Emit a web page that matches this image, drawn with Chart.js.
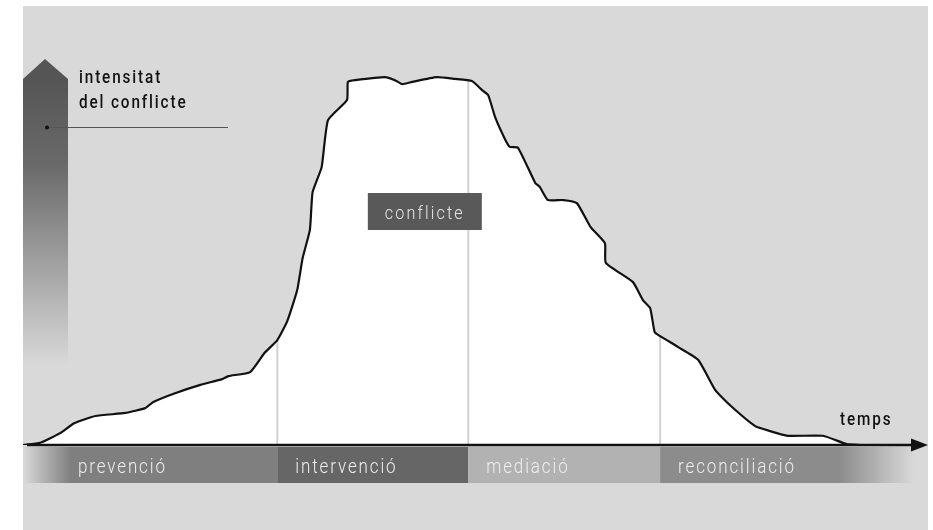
<!DOCTYPE html>
<html>
<head>
<meta charset="utf-8">
<script src="https://cdn.jsdelivr.net/npm/chart.js@4.4.0/dist/chart.umd.min.js"></script>
<style>
    body { margin: 0; background: #ffffff; }
    #grafic { display: block; }
</style>
</head>
<body>
<canvas id="grafic" width="933" height="530"></canvas>
<script>
// temps (0-100) i intensitat (0-100) llegits de la imatge
const temps = [0, 1.9, 4.1, 5.7, 8.0, 11.3, 13.5, 14.4, 16.8, 19.6, 22.0, 22.7, 25.1, 26.7, 28.1, 29.2, 30.3, 30.9, 31.7, 32.0,
    33.0, 33.7, 35.8, 35.9, 36.7, 40.0, 41.1, 41.9, 43.0, 45.7, 47.7, 49.6, 50.7, 51.4, 52.2, 53.3, 53.8, 54.7, 56.6, 57.1,
    58.0, 59.7, 61.2, 62.7, 64.3, 64.4, 67.4, 68.5, 69.3, 69.8, 70.4, 72.4, 74.6, 76.5, 78.1, 80.9, 82.5, 84.5, 88.4, 91.0, 92.5];
const intensitat = [0, 0.5, 2.7, 5.0, 6.6, 7.3, 8.4, 9.8, 11.8, 13.7, 15.0, 15.7, 16.6, 21.0, 23.9, 28.2, 35.3, 42.6, 49.0, 57.6,
    63.3, 74.0, 78.6, 82.7, 83.1, 83.8, 83.1, 82.2, 82.7, 83.8, 83.4, 82.9, 80.9, 79.7, 74.5, 69.5, 67.9, 67.7, 59.7, 58.8,
    55.8, 55.8, 55.1, 49.7, 46.0, 41.5, 37.1, 33.0, 31.2, 25.7, 24.8, 22.3, 19.4, 12.5, 9.1, 4.3, 3.2, 2.1, 2.1, 0.2, 0];

const fases = ['prevenció', 'intervenció', 'mediació', 'reconciliació'];
const iniciFases = [0, 28.1, 49.2, 70.4];
const fiFases = 98.5;
const alcadaLimits = [23.9, 83.0, 24.8];
const etiquetaConflicte = { text: 'conflicte', x: 44.4, y: 53.3 };

const puntsCorba = temps.map((t, i) => ({ x: t, y: intensitat[i] }));

const limits = iniciFases.slice(1).map((t, i) => ({
    type: 'line',
    data: [{ x: t, y: 0 }, { x: t, y: alcadaLimits[i] }],
    borderColor: '#d2d2d2',
    borderWidth: 2,
    pointRadius: 0,
    fill: false,
    order: 1
}));

// text estret (la font original es condensada)
function textEstret(ctx, txt, x, y, esc) {
    ctx.save();
    ctx.translate(x, y);
    ctx.scale(esc, 1);
    ctx.fillText(txt, 0, 0);
    ctx.restore();
}

const decorat = {
    id: 'decorat',
    beforeDraw(chart) {
        const ctx = chart.ctx;
        const a = chart.chartArea;
        ctx.save();
        ctx.fillStyle = '#d9d9d9';
        ctx.fillRect(a.left, a.top, a.right - a.left, chart.height - a.top);

        // fletxa vertical degradada
        const g = ctx.createLinearGradient(0, 80, 0, 365);
        g.addColorStop(0, '#555555');
        g.addColorStop(0.3, '#6a6a6a');
        g.addColorStop(1, '#d9d9d9');
        ctx.fillStyle = g;
        ctx.beginPath();
        ctx.moveTo(a.left, 365);
        ctx.lineTo(a.left, 79);
        ctx.lineTo(a.left + 22, 59);
        ctx.lineTo(a.left + 45, 79);
        ctx.lineTo(a.left + 45, 365);
        ctx.closePath();
        ctx.fill();
        ctx.restore();
    },
    afterDraw(chart) {
        const ctx = chart.ctx;
        const a = chart.chartArea;
        const x = chart.scales.x;
        const y = chart.scales.y;
        const top = a.bottom + 2;
        const h = 36;
        const colors = ['#7f7f7f', '#666666', '#b2b2b2', '#8c8c8c'];
        ctx.save();

        // franja de fases
        for (let i = 0; i < fases.length; i++) {
            const x0 = x.getPixelForValue(iniciFases[i]);
            const x1 = x.getPixelForValue(i < fases.length - 1 ? iniciFases[i + 1] : fiFases);
            let fill = colors[i];
            if (i == 0) {
                fill = ctx.createLinearGradient(x0, 0, x0 + 48, 0);
                fill.addColorStop(0, '#d9d9d9');
                fill.addColorStop(1, colors[0]);
            }
            if (i == fases.length - 1) {
                fill = ctx.createLinearGradient(x1 - 75, 0, x1, 0);
                fill.addColorStop(0, colors[3]);
                fill.addColorStop(1, '#d9d9d9');
            }
            ctx.fillStyle = fill;
            ctx.fillRect(x0, top, x1 - x0, h);
        }

        ctx.font = '300 20px Roboto';
        ctx.letterSpacing = '2.2px';
        ctx.fillStyle = '#eeeeee';
        ctx.textBaseline = 'alphabetic';
        fases.forEach((f, i) => {
            const x0 = x.getPixelForValue(iniciFases[i]);
            textEstret(ctx, f, x0 + (i == 0 ? 55 : 18), top + 26, 0.85);
        });

        // eix del temps amb fletxa
        ctx.strokeStyle = '#111111';
        ctx.lineWidth = 2.5;
        ctx.beginPath();
        ctx.moveTo(a.left + 4, a.bottom);
        ctx.lineTo(a.right - 14, a.bottom);
        ctx.stroke();
        ctx.fillStyle = '#111111';
        ctx.beginPath();
        ctx.moveTo(a.right, a.bottom);
        ctx.lineTo(a.right - 17, a.bottom - 6.5);
        ctx.lineTo(a.right - 17, a.bottom + 6.5);
        ctx.closePath();
        ctx.fill();

        // etiqueta conflicte
        const cx = x.getPixelForValue(etiquetaConflicte.x);
        const cy = y.getPixelForValue(etiquetaConflicte.y);
        ctx.fillStyle = '#595959';
        ctx.fillRect(cx - 57, cy - 18, 114, 37);
        ctx.font = '300 19px Roboto';
        ctx.letterSpacing = '2.5px';
        ctx.fillStyle = '#e6e6e6';
        textEstret(ctx, etiquetaConflicte.text, cx - 40, cy + 8, 0.85);

        // textos dels eixos
        ctx.font = '500 18px Roboto';
        ctx.letterSpacing = '2.2px';
        ctx.fillStyle = '#111111';
        textEstret(ctx, 'intensitat', 79, 83, 0.85);
        textEstret(ctx, 'del conflicte', 79, 108, 0.85);
        textEstret(ctx, 'temps', 840, 425, 0.85);

        ctx.strokeStyle = '#555555';
        ctx.lineWidth = 1;
        ctx.beginPath();
        ctx.moveTo(47, 127.5);
        ctx.lineTo(228, 127.5);
        ctx.stroke();
        ctx.fillStyle = '#111111';
        ctx.beginPath();
        ctx.arc(47, 127.5, 2, 0, Math.PI * 2);
        ctx.fill();
        ctx.restore();
    }
};

const grafic = new Chart(document.getElementById('grafic').getContext('2d'), {
    type: 'line',
    data: {
        datasets: [{
            data: puntsCorba,
            borderColor: '#111111',
            borderWidth: 2.2,
            backgroundColor: '#ffffff',
            fill: 'origin',
            pointRadius: 0,
            tension: 0.15,
            order: 0
        }].concat(limits)
    },
    options: {
        responsive: false,
        animation: false,
        layout: { padding: { left: 23, right: 5, top: 6, bottom: 85 } },
        scales: {
            x: { type: 'linear', min: 0, max: 100, display: false },
            y: { min: 0, max: 100, display: false }
        },
        plugins: {
            legend: { display: false },
            tooltip: { enabled: false },
            filler: { drawTime: 'beforeDatasetsDraw' }
        }
    },
    plugins: [decorat]
});
</script>
</body>
</html>
